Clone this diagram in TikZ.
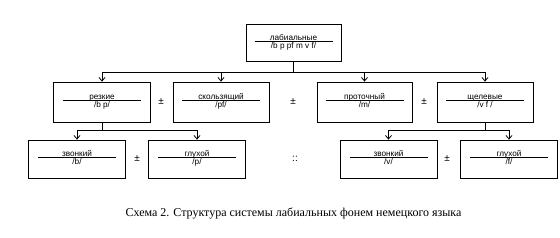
\documentclass[tikz,border=0pt]{standalone}
\usepackage{fontspec}
\setmainfont{Liberation Serif}
\newfontfamily\boxfont{Liberation Sans}
\usepackage{array}
\usetikzlibrary{arrows.meta}
\newcommand{\twolines}[2]{\begin{tabular}{@{}>{\centering\arraybackslash}p{78pt}@{}}#1\\[-2.2pt]\hline\noalign{\vskip0.6pt}#2\end{tabular}}
\tikzset{
  pbox/.style={draw, line width=0.8pt, rectangle, inner sep=0pt, minimum width=97pt, minimum height=39pt, font=\boxfont\fontsize{8.2}{9}\selectfont},
  conn/.style={line width=0.8pt},
  arr/.style={line width=0.8pt, -{Straight Barb[length=3.5pt,width=6pt,line width=0.8pt]}},
  sign/.style={font=\boxfont\fontsize{10}{11}\selectfont, inner sep=0pt}
}
\begin{document}
\begin{tikzpicture}[x=1pt,y=-1pt]
\useasboundingbox (0,0) rectangle (560,238);
% boxes
\node[pbox, minimum width=95pt, minimum height=37pt] (top) at (293.5,42.5) {\twolines{лабиальные}{/b p pf m v f/}};
\node[pbox, minimum height=40pt] (b1) at (102,102) {\twolines{резкие}{/b p/}};
\node[pbox, minimum height=40pt, minimum width=96pt] (b2) at (221,102) {\twolines{скользящий}{/pf/}};
\node[pbox, minimum height=40pt, minimum width=95pt] (b3) at (364.5,102) {\twolines{проточный}{/m/}};
\node[pbox, minimum height=40pt, minimum width=96pt] (b4) at (485,102) {\twolines{щелевые}{/v f /}};
\node[pbox, minimum height=38pt] (c1) at (77,159) {\twolines{звонкий}{/b/}};
\node[pbox, minimum height=38pt] (c2) at (197,159) {\twolines{глухой}{/p/}};
\node[pbox, minimum height=38pt] (c3) at (388.5,159) {\twolines{звонкий}{/v/}};
\node[pbox, minimum height=38pt] (c4) at (509,159) {\twolines{глухой}{/f/}};
% signs
\node[sign] (s1) at (161,102) {±};
\node[sign] (s2) at (293,102) {±};
\node[sign] (s3) at (424,102) {±};
\node[sign] (s4) at (137,159) {±};
\node[sign] (s5) at (295,159) {::};
\node[sign] (s6) at (447,159) {±};
% connectors
\coordinate (j1) at (top.south |- 0,72);
\draw[conn] (top.south) -- (j1);
\foreach \b in {b1,b2,b3,b4} \draw[arr] (j1) -| (\b.north);
\coordinate (j2) at (b1.south |- 0,130);
\draw[conn] (b1.south) -- (j2);
\foreach \b in {c1,c2} \draw[arr] (j2) -| (\b.north);
\coordinate (j3) at (b4.south |- 0,130);
\draw[conn] (b4.south) -- (j3);
\foreach \b in {c3,c4} \draw[arr] (j3) -| (\b.north);
% caption
\node[font=\fontsize{12}{14}\selectfont, inner sep=0pt] (cap) at (293.5,213) {Схема 2. Структура системы лабиальных фонем немецкого языка};
\end{tikzpicture}
\end{document}
